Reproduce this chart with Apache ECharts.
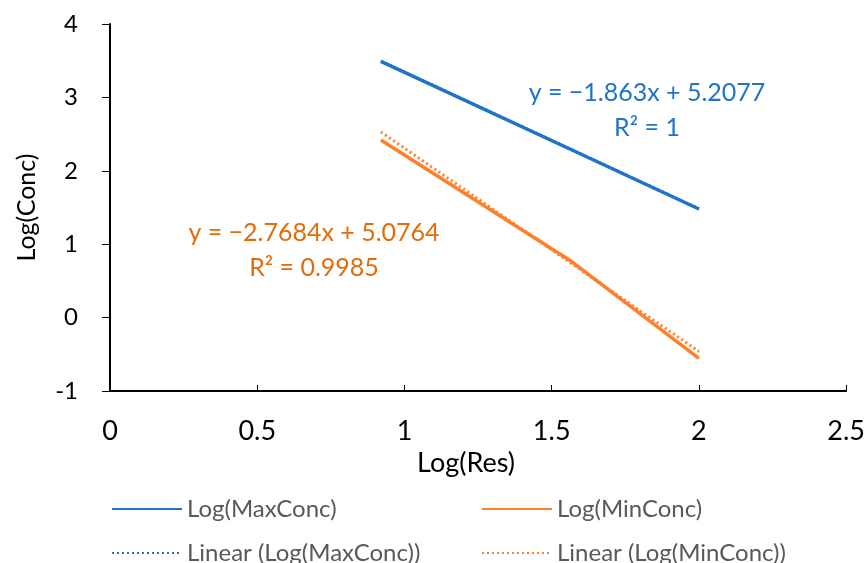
<!DOCTYPE html>
<html>
<head>
<meta charset="utf-8">
<script src="https://cdn.jsdelivr.net/npm/echarts@6/dist/echarts.min.js"></script>
<style>
  html, body { margin: 0; padding: 0; background: #fff; }
  #main { width: 868px; height: 563px; }
</style>
</head>
<body>
<div id="main"></div>
<script>
(function () {
    var myChart = echarts.init(document.getElementById('main'));

    // Log(Res) values
    var logRes = [0.92, 1.56, 2.0];
    // series values
    var logMaxConc = [3.49, 2.30, 1.48];
    var logMinConc = [2.42, 0.785, -0.555];
    // trendline coefficients as printed on the chart
    var maxFit = { slope: -1.863, intercept: 5.2077, label: 'y = \u22121.863x + 5.2077', r2: 'R\u00b2 = 1' };
    var minFit = { slope: -2.7684, intercept: 5.0764, label: 'y = \u22122.7684x + 5.0764', r2: 'R\u00b2 = 0.9985' };
    // tick labels
    var xTicks = [0, 0.5, 1, 1.5, 2, 2.5];
    var yTicks = [-1, 0, 1, 2, 3, 4];

    var blue = '#1f74c9';
    var orange = '#ff7f2a';
    var font = 'Lato, "Open Sans", sans-serif';

    var pairs = function (xs, ys) {
        var res = [];
        for (var i = 0; i < xs.length; i++) res.push([xs[i], ys[i]]);
        return res;
    };
    var fitLine = function (fit) {
        var x0 = logRes[0], x1 = logRes[logRes.length - 1];
        return [[x0, fit.slope * x0 + fit.intercept], [x1, fit.slope * x1 + fit.intercept]];
    };

    // one legend per entry so they sit in two fixed columns
    var makeLegend = function (name, left, top) {
        return {
            left: left,
            top: top,
            itemWidth: 70,
            itemHeight: 14,
            itemStyle: { opacity: 0 },
            textStyle: { color: '#595959', fontSize: 24, fontFamily: font },
            data: [name]
        };
    };

    var option = {
        backgroundColor: '#fff',
        animation: false,
        textStyle: { fontFamily: font },
        grid: { left: 110, right: 18, top: 24, bottom: 172, containLabel: false },
        xAxis: {
            type: 'value',
            min: xTicks[0],
            max: xTicks[xTicks.length - 1],
            interval: 0.5,
            name: 'Log(Res)',
            nameLocation: 'middle',
            nameGap: 53,
            nameTextStyle: { color: '#000', fontSize: 27, fontFamily: font, padding: [0, 24, 0, 0] },
            axisLine: { onZero: false, lineStyle: { color: '#000', width: 2 } },
            axisTick: { inside: true, length: 6, lineStyle: { color: '#000' } },
            axisLabel: { color: '#000', fontSize: 27, margin: 27, fontFamily: font },
            splitLine: { show: false }
        },
        yAxis: {
            type: 'value',
            min: yTicks[0],
            max: yTicks[yTicks.length - 1],
            interval: 1,
            name: 'Log(Conc)',
            nameLocation: 'middle',
            nameGap: 71,
            nameRotate: 90,
            nameTextStyle: { color: '#000', fontSize: 25, fontFamily: font },
            axisLine: { show: true, onZero: false, lineStyle: { color: '#000', width: 2 } },
            axisTick: { show: true, length: 8, lineStyle: { color: '#000' } },
            axisLabel: { color: '#000', fontSize: 24, margin: 32, fontFamily: font },
            splitLine: { show: false }
        },
        legend: [
            makeLegend('Log(MaxConc)', 106, 492),
            makeLegend('Linear (Log(MaxConc))', 106, 536),
            makeLegend('Log(MinConc)', 476, 492),
            makeLegend('Linear (Log(MinConc))', 476, 536)
        ],
        series: [
            {
                name: 'Linear (Log(MinConc))',
                type: 'line',
                data: fitLine(minFit),
                showSymbol: false,
                symbol: 'none',
                color: orange,
                lineStyle: { color: orange, width: 3, type: [2, 3] },
                z: 1
            },
            {
                name: 'Linear (Log(MaxConc))',
                type: 'line',
                data: fitLine(maxFit),
                showSymbol: false,
                symbol: 'none',
                color: blue,
                lineStyle: { color: blue, width: 3, type: [2, 3] },
                z: 1
            },
            {
                name: 'Log(MaxConc)',
                type: 'line',
                data: pairs(logRes, logMaxConc),
                showSymbol: false,
                symbol: 'none',
                color: blue,
                lineStyle: { color: blue, width: 3.5 },
                z: 2
            },
            {
                name: 'Log(MinConc)',
                type: 'line',
                data: pairs(logRes, logMinConc),
                showSymbol: false,
                symbol: 'none',
                color: orange,
                lineStyle: { color: orange, width: 3.5 },
                z: 2
            }
        ],
        graphic: [
            { type: 'text', x: 647, y: 75, style: { text: maxFit.label + '\n' + maxFit.r2, fill: '#1f74c9', font: '25px ' + font, align: 'center', lineHeight: 35 } },
            { type: 'text', x: 314, y: 215, style: { text: minFit.label + '\n' + minFit.r2, fill: '#e36c0a', font: '25px ' + font, align: 'center', lineHeight: 35 } }
        ]
    };

    myChart.setOption(option);
})();
</script>
</body>
</html>
